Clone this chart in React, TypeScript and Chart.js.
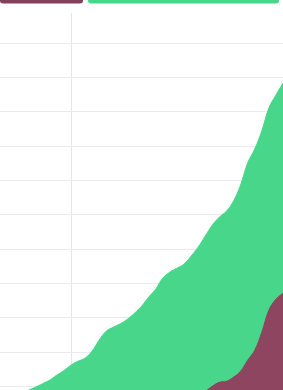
import React, { useEffect, useRef } from "react";
import { Chart, registerables } from "chart.js";

Chart.register(...registerables);

const days: number[] = Array.from({ length: 41 }, (_, i) => i);

const totalSeries: number[] = [
  516, 603, 690, 792, 894, 982, 1084, 1186, 1331, 1462,
  1622, 1739, 1826, 2030, 2351, 2613, 2729, 2831, 2962, 3137,
  3341, 3603, 3836, 4157, 4332, 4448, 4565, 4798, 5060, 5380,
  5701, 5934, 6108, 6400, 6866, 7507, 7914, 8439, 9109, 9487,
  9837,
];

const subSeries: number[] = [
  40, 55, 70, 85, 100, 115, 130, 150, 170, 190,
  210, 235, 260, 285, 310, 340, 370, 400, 430, 460,
  490, 520, 550, 585, 620, 660, 700, 745, 790, 865,
  1011, 1127, 1157, 1273, 1448, 1768, 2059, 2584, 3225, 3545,
  3720,
];

const seriesNames: string[] = ["Sub", "Total"];
const xGridTicks: number[] = [10.15];
const yGridTicks: number[] = [0, 1000, 2000, 3000, 4000, 5000, 6000, 7000, 8000, 9000, 10000, 11000];
const yMax = 11876;

const MAROON = "#8e4560";
const GREEN = "#48d68b";

const topBars = {
  id: "topBars",
  afterDraw(chart: any) {
    const ctx = chart.ctx;
    const draw = (x: number, w: number, color: string) => {
      ctx.save();
      ctx.fillStyle = color;
      ctx.beginPath();
      (ctx as any).roundRect(x, -6, w, 9.5, 3);
      ctx.fill();
      ctx.restore();
    };
    draw(0, 83, "#84405a");
    draw(88, 191, GREEN);
  },
};

export default function App() {
  const ref = useRef<HTMLCanvasElement | null>(null);

  useEffect(() => {
    if (!ref.current) return;
    const chart = new Chart(ref.current, {
      type: "line",
      data: {
        labels: days,
        datasets: [
          {
            label: seriesNames[0],
            data: days.map((d, i) => ({ x: d, y: subSeries[i] })),
            backgroundColor: MAROON,
            borderColor: MAROON,
            borderWidth: 1,
            fill: "origin",
            tension: 0.4,
            pointRadius: 0,
          },
          {
            label: seriesNames[1],
            data: days.map((d, i) => ({ x: d, y: totalSeries[i] })),
            backgroundColor: GREEN,
            borderColor: GREEN,
            borderWidth: 1,
            fill: "origin",
            tension: 0.4,
            pointRadius: 0,
          },
        ],
      },
      options: {
        responsive: false,
        animation: false,
        layout: { padding: { top: 13, left: 0, right: 0, bottom: 0 } },
        plugins: { legend: { display: false }, tooltip: { enabled: false } },
        scales: {
          x: {
            type: "linear",
            min: 0,
            max: 40,
            ticks: { display: false },
            border: { display: false },
            grid: { color: "#e6e4e6", drawTicks: false, lineWidth: 1 },
            afterBuildTicks: (scale: any) => {
              scale.ticks = xGridTicks.map((v) => ({ value: v }));
            },
          },
          y: {
            min: 0,
            max: yMax,
            ticks: { display: false },
            border: { display: false },
            grid: { color: "#ebebeb", drawTicks: false, lineWidth: 1 },
            afterBuildTicks: (scale: any) => {
              scale.ticks = yGridTicks.map((v) => ({ value: v }));
            },
          },
        },
      },
      plugins: [topBars],
    });
    return () => chart.destroy();
  }, []);

  return (
    <div
      style={{
        position: "fixed",
        top: 0,
        left: 0,
        width: 283,
        height: 390,
        overflow: "hidden",
        background: "#fff",
      }}
    >
      <canvas ref={ref} width={283} height={421} style={{ display: "block" }} />
    </div>
  );
}
